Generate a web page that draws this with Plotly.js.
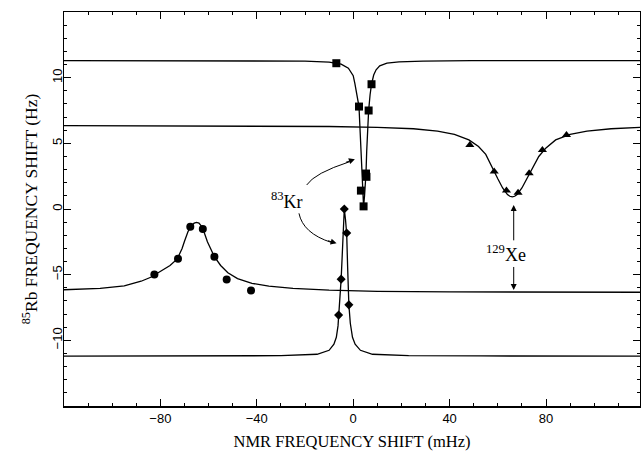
<!DOCTYPE html>
<html><head><meta charset="utf-8">
<script src="https://cdn.plot.ly/plotly-3.0.1.min.js"></script>
<style>html,body{margin:0;padding:0;background:#fff}</style>
</head><body><div id="chart" style="width:641px;height:458px"></div>
<script>
// 83Kr dip (squares) - fitted curve and measured points
const krDipCurveX = [-120, -80, -40, -20, -10, -5, -2, 0, 0.7, 1.5, 2.0, 2.4, 2.8, 3.2, 3.6, 3.9, 4.3, 4.7, 5.0, 5.3, 5.6, 6.0, 6.4, 7.0, 7.6, 8.5, 9.5, 11, 14, 19, 29, 49, 89, 119];
const krDipCurveY = [11.3, 11.3, 11.29, 11.26, 11.18, 11.03, 10.72, 10.15, 9.55, 8.7, 8.2, 7.8, 6.2, 4.2, 2.2, 1.2, 0.2, 1.0, 1.8, 2.7, 4.4, 6.1, 7.5, 8.7, 9.5, 10.2, 10.6, 10.9, 11.1, 11.2, 11.26, 11.29, 11.3, 11.3];
const krDipPtsX = [-7.0, 2.4, 3.2, 4.3, 5.3, 5.5, 6.4, 7.6];
const krDipPtsY = [11.1, 7.8, 1.4, 0.2, 2.7, 2.45, 7.5, 9.5];

// 129Xe dip (triangles)
const xeDipCurveX = [-120, -80, -40, -10, 10, 25, 35, 42, 48, 52, 55, 58, 60, 62, 64, 65, 66, 67, 68, 70, 72, 74, 77, 80, 84, 90, 97, 107, 119];
const xeDipCurveY = [6.35, 6.34, 6.32, 6.28, 6.22, 6.11, 5.93, 5.68, 5.26, 4.76, 4.16, 3.0, 2.3, 1.6, 1.1, 0.97, 0.92, 0.97, 1.1, 1.6, 2.3, 3.0, 4.0, 4.65, 5.26, 5.68, 5.93, 6.11, 6.21];
const xeDipPtsX = [48.4, 58.5, 63.6, 68.4, 73.0, 78.5, 88.5];
const xeDipPtsY = [4.88, 2.85, 1.4, 1.24, 2.72, 4.5, 5.64];

// 129Xe peak (circles)
const xePeakCurveX = [-120, -105, -95, -88, -84, -80, -76, -73, -71, -70, -68.5, -67, -66, -65, -64, -63, -62, -60.5, -59, -57.6, -55, -52, -48, -42, -35, -25, -10, 10, 40, 80, 119];
const xePeakCurveY = [-6.15, -6.05, -5.85, -5.5, -5.2, -4.75, -4.3, -3.8, -3.0, -2.45, -1.7, -1.25, -1.08, -1.02, -1.08, -1.3, -1.7, -2.5, -3.1, -3.63, -4.3, -4.85, -5.3, -5.66, -5.88, -6.05, -6.18, -6.27, -6.31, -6.33, -6.34];
const xePeakPtsX = [-82.5, -72.7, -67.6, -62.4, -57.6, -52.5, -42.4];
const xePeakPtsY = [-4.98, -3.79, -1.35, -1.52, -3.63, -5.36, -6.2];

// 83Kr peak (diamonds)
const krPeakCurveX = [-120, -60, -30, -15, -10, -8, -7, -6.3, -5.6, -5.0, -4.5, -4.1, -3.7, -3.2, -2.7, -2.3, -1.8, -1.2, -0.3, 0.8, 3, 8, 23, 53, 119];
const krPeakCurveY = [-11.2, -11.19, -11.17, -11.06, -10.76, -10.3, -9.77, -8.9, -7.2, -5.34, -3.3, -1.5, 0, -0.8, -1.9, -4.5, -7.3, -8.7, -9.77, -10.3, -10.76, -11.06, -11.17, -11.19, -11.2];
const krPeakPtsX = [-6.05, -5.0, -3.7, -2.7, -1.8];
const krPeakPtsY = [-8.08, -5.34, 0, -1.83, -7.3];

const xTickVals = [-80, -40, 0, 40, 80];
const yTickVals = [-10, -5, 0, 5, 10];

const lineStyle = {color: '#000', width: 1.3};
function curve(x, y) { return {x: x, y: y, mode: 'lines', line: lineStyle, hoverinfo: 'skip', showlegend: false}; }
function pts(x, y, sym, size) { return {x: x, y: y, mode: 'markers', marker: {symbol: sym, size: size, color: '#000'}, showlegend: false}; }

const data = [
  curve(krDipCurveX, krDipCurveY), pts(krDipPtsX, krDipPtsY, 'square', 8),
  curve(xeDipCurveX, xeDipCurveY), pts(xeDipPtsX, xeDipPtsY, 'triangle-up', 8),
  curve(xePeakCurveX, xePeakCurveY), pts(xePeakPtsX, xePeakPtsY, 'circle', 8),
  curve(krPeakCurveX, krPeakCurveY), pts(krPeakPtsX, krPeakPtsY, 'diamond', 7)
];

const serif = 'Liberation Serif, Times New Roman, serif';
const sans = 'Liberation Sans, Arial, sans-serif';

const axisCommon = {
  showline: true, linecolor: '#000', linewidth: 1.5, mirror: 'allticks',
  ticks: 'inside', ticklen: 7, tickwidth: 1, tickcolor: '#000',
  showgrid: false, zeroline: false,
  tickfont: {family: sans, size: 13, color: '#000'}
};

const layout = {
  width: 641, height: 458,
  margin: {l: 64, r: 1, t: 12, b: 52},
  paper_bgcolor: '#fff', plot_bgcolor: '#fff',
  xaxis: Object.assign({}, axisCommon, {
    range: [-120, 119], tickvals: xTickVals,
    minor: {dtick: 10, tick0: 0, ticks: 'inside', ticklen: 3, tickcolor: '#000', showgrid: false},
    title: {text: 'NMR FREQUENCY SHIFT (mHz)', font: {family: serif, size: 16.5, color: '#000'}, standoff: 10}
  }),
  yaxis: Object.assign({}, axisCommon, {
    range: [-15, 15], tickvals: yTickVals, tickangle: -90, ticklabelstandoff: -5,
    minor: {dtick: 1, tick0: 0, ticks: 'inside', ticklen: 3, tickcolor: '#000', showgrid: false},
    title: {text: '<sup>85</sup>Rb FREQUENCY SHIFT (Hz)', font: {family: serif, size: 17.5, color: '#000'}, standoff: 8}
  }),
  shapes: [
    {type: 'path', xref: 'x', yref: 'y', path: 'M -19.3,1.83 Q -16.1,2.73 -1.5,3.6', line: {color: '#000', width: 1}},
    {type: 'path', xref: 'x', yref: 'y', path: 'M -22.5,-0.33 Q -20.85,-1.85 -9,-2.55', line: {color: '#000', width: 1}}
  ],
  annotations: [
    {x: -27.5, y: 0.61, xref: 'x', yref: 'y', text: '<sup>83</sup>Kr', showarrow: false, font: {family: serif, size: 18, color: '#000'}},
    {x: 63.5, y: -3.35, xref: 'x', yref: 'y', text: '<sup>129</sup>Xe', showarrow: false, font: {family: serif, size: 18, color: '#000'}},
    {x: 66.6, y: 0.3, xref: 'x', yref: 'y', ax: 66.6, ay: -2.5, axref: 'x', ayref: 'y', text: '', showarrow: true, arrowhead: 2, arrowsize: 1.2, arrowwidth: 1, arrowcolor: '#000'},
    {x: 66.6, y: -6.17, xref: 'x', yref: 'y', ax: 66.6, ay: -4.3, axref: 'x', ayref: 'y', text: '', showarrow: true, arrowhead: 2, arrowsize: 1.2, arrowwidth: 1, arrowcolor: '#000'},
    {x: 0.7, y: 3.79, xref: 'x', yref: 'y', ax: -10.5, ay: 3.6, text: '', showarrow: true, arrowhead: 2, arrowsize: 1.2, arrowwidth: 1, arrowcolor: '#000'},
    {x: -6.9, y: -2.61, xref: 'x', yref: 'y', ax: -10, ay: -3, text: '', showarrow: true, arrowhead: 2, arrowsize: 1.2, arrowwidth: 1, arrowcolor: '#000'}
  ]
};

Plotly.newPlot('chart', data, layout, {displayModeBar: false, staticPlot: true});
</script></body></html>
